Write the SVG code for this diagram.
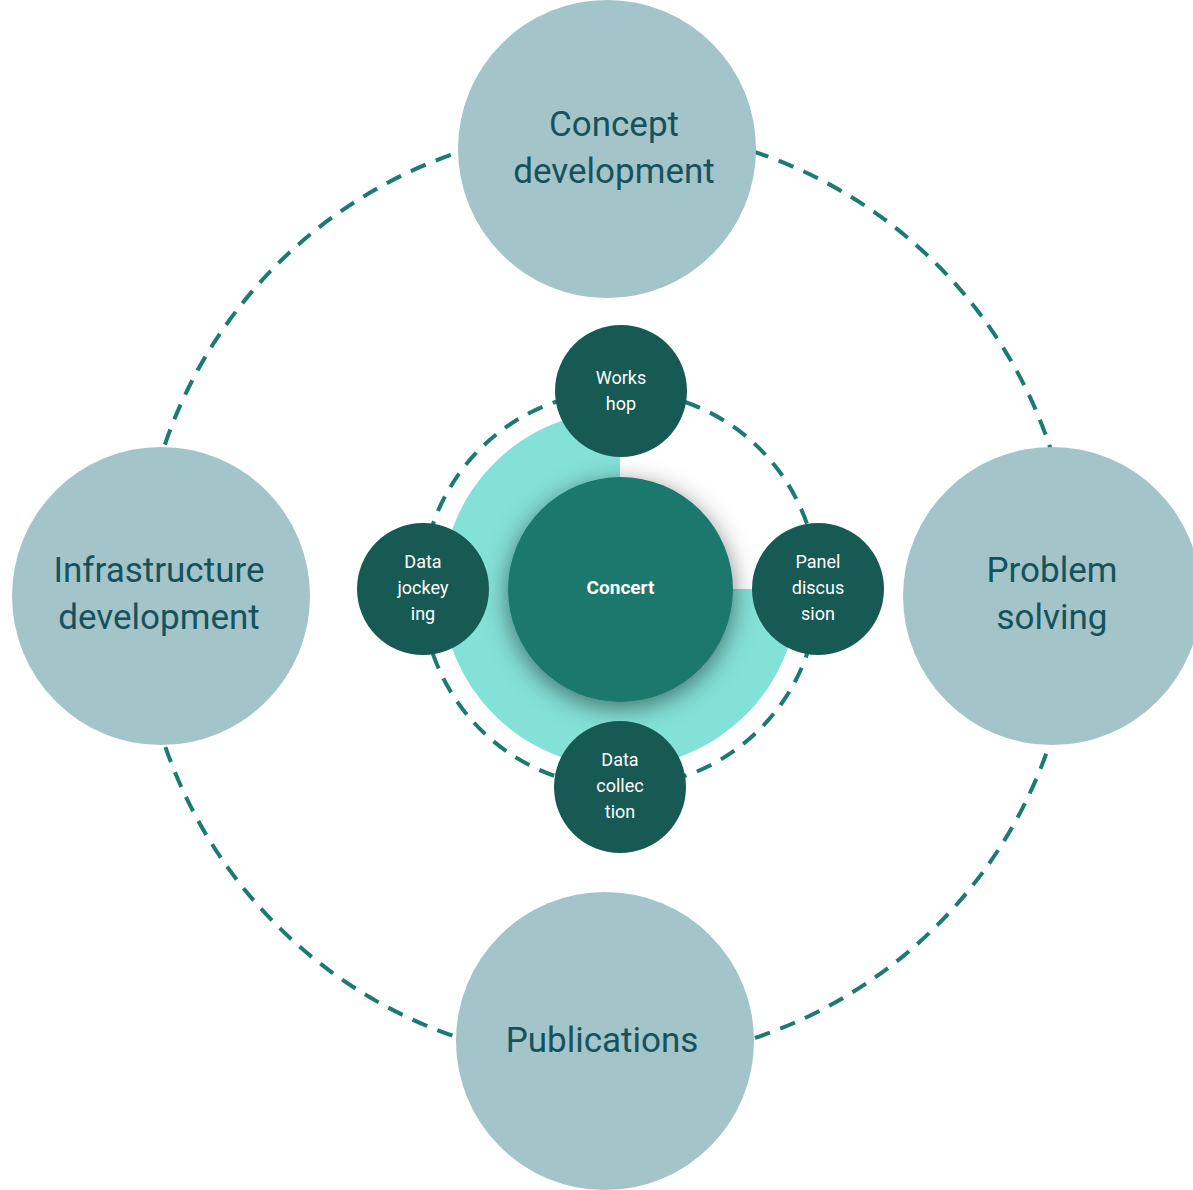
<svg xmlns="http://www.w3.org/2000/svg" width="1193" height="1190" viewBox="0 0 1193 1190">
  <defs>
    <style>
      .dash { fill: none; stroke: #1C7A6E; stroke-width: 4; stroke-dasharray: 16 11; }
      .big { fill: #A3C4C8; }
      .bigtxt { font-family: Roboto, "Liberation Sans", sans-serif; font-size: 35px; fill: #17525C; text-anchor: middle; }
      .small { fill: #165A53; }
      .smalltxt { font-family: Roboto, "Liberation Sans", sans-serif; font-size: 18px; fill: #FFFFFF; text-anchor: middle; }
      .center { fill: #1C776D; }
      .centertxt { font-family: Roboto, "Liberation Sans", sans-serif; font-size: 19px; font-weight: bold; fill: #FFFFFF; text-anchor: middle; }
    </style>
    <filter id="shadow" x="-40%" y="-40%" width="180%" height="180%">
      <feDropShadow dx="0" dy="6" stdDeviation="12" flood-color="#000000" flood-opacity="0.5"/>
    </filter>
  </defs>
  <rect width="1193" height="1190" fill="#FFFFFF"/>

  <g id="connectors">
    <circle class="dash" cx="607" cy="595" r="467"/>
    <circle class="dash" cx="620" cy="589" r="198"/>
  </g>

  <g id="ring">
    <path d="M620 589 L620 411 A178 178 0 1 0 798 589 Z" fill="#84E1D8"/>
  </g>

  <g id="concept-development">
    <circle class="big" cx="607" cy="149" r="149"/>
    <text class="bigtxt" x="614" y="136">Concept</text>
    <text class="bigtxt" x="614" y="183">development</text>
  </g>
  <g id="infrastructure-development">
    <circle class="big" cx="161" cy="596" r="149"/>
    <text class="bigtxt" x="159" y="582">Infrastructure</text>
    <text class="bigtxt" x="159" y="629">development</text>
  </g>
  <g id="problem-solving">
    <circle class="big" cx="1052" cy="596" r="149"/>
    <text class="bigtxt" x="1052" y="582">Problem</text>
    <text class="bigtxt" x="1052" y="629">solving</text>
  </g>
  <g id="publications">
    <circle class="big" cx="605" cy="1041" r="149"/>
    <text class="bigtxt" x="602" y="1052">Publications</text>
  </g>

  <g id="concert">
    <circle class="center" cx="620.5" cy="589.5" r="112.5" filter="url(#shadow)"/>
    <text class="centertxt" x="620.5" y="594">Concert</text>
  </g>

  <g id="workshop">
    <circle class="small" cx="621" cy="391" r="66"/>
    <text class="smalltxt" x="621" y="384">Works</text>
    <text class="smalltxt" x="621" y="410">hop</text>
  </g>
  <g id="data-jockeying">
    <circle class="small" cx="423" cy="589" r="66"/>
    <text class="smalltxt" x="423" y="568">Data</text>
    <text class="smalltxt" x="423" y="594">jockey</text>
    <text class="smalltxt" x="423" y="620">ing</text>
  </g>
  <g id="panel-discussion">
    <circle class="small" cx="818" cy="589" r="66"/>
    <text class="smalltxt" x="818" y="568">Panel</text>
    <text class="smalltxt" x="818" y="594">discus</text>
    <text class="smalltxt" x="818" y="620">sion</text>
  </g>
  <g id="data-collection">
    <circle class="small" cx="620" cy="787" r="66"/>
    <text class="smalltxt" x="620" y="766">Data</text>
    <text class="smalltxt" x="620" y="792">collec</text>
    <text class="smalltxt" x="620" y="818">tion</text>
  </g>
</svg>
